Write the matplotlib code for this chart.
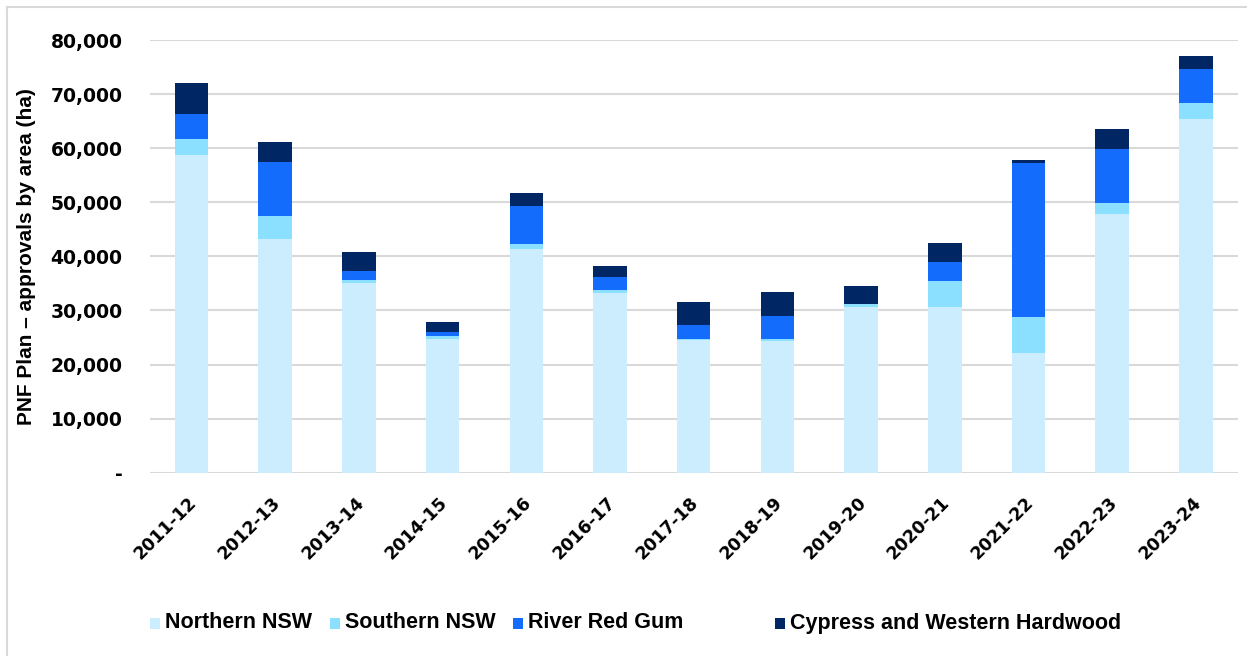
import numpy as np
import matplotlib.pyplot as plt
import matplotlib.transforms as mtransforms
from matplotlib.lines import Line2D
from matplotlib.patches import Rectangle
from matplotlib.ticker import FuncFormatter

plt.rcParams['font.family'] = ['Liberation Sans', 'DejaVu Sans']
plt.rcParams['font.weight'] = 'bold'
NUM_FONT = 'DejaVu Sans'

years = ['2011-12', '2012-13', '2013-14', '2014-15', '2015-16', '2016-17', '2017-18',
         '2018-19', '2019-20', '2020-21', '2021-22', '2022-23', '2023-24']

# approved area (ha) per region
northern = [58700, 43200, 35100, 24800, 41350, 33200, 24500, 24350, 30700, 30600, 22100, 47900, 65400]
southern = [3000, 4200, 500, 500, 850, 600, 300, 300, 500, 4900, 6750, 2000, 2900]
river_red_gum = [4700, 10000, 1700, 800, 7200, 2400, 2550, 4250, 50, 3400, 28350, 10000, 6250]
cypress_western = [5700, 3700, 3550, 1750, 2250, 1950, 4250, 4500, 3200, 3600, 600, 3600, 2450]

series = [
    ('Northern NSW', northern, '#CBEDFD'),
    ('Southern NSW', southern, '#8CE0FF'),
    ('River Red Gum', river_red_gum, '#146CFD'),
    ('Cypress and Western Hardwood', cypress_western, '#002664'),
]

W, H = 1247, 656
fig = plt.figure(figsize=(W / 100, H / 100), dpi=100)
ax = fig.add_axes([0.12, 0.2794, 0.8726, 0.6596])

x = np.arange(len(years))
bottom = np.zeros(len(years))
for name, vals, col in series:
    vals = np.array(vals, dtype=float)
    ax.bar(x, vals, width=0.4, bottom=bottom, color=col, edgecolor='none', zorder=3)
    bottom += vals

ax.set_xlim(-0.5, len(years) - 0.5)
ax.set_ylim(0, 80000)
ax.set_yticks(np.arange(0, 80001, 10000))
ax.yaxis.set_major_formatter(FuncFormatter(lambda v, p: '-' if v == 0 else f'{v:,.0f}'))
ax.grid(axis='y', color='#D9D9D9', linewidth=1.5, zorder=0)
for s in ['top', 'right', 'left', 'bottom']:
    ax.spines[s].set_visible(False)
ax.tick_params(axis='both', length=0)
ax.tick_params(axis='y', pad=19.5)

ax.set_xticks(x)
ax.set_xticklabels(years, rotation=45, ha='right', va='top', rotation_mode='anchor')
ax.tick_params(axis='x', pad=15)
shift = mtransforms.ScaledTranslation(-4 / 100, 0, fig.dpi_scale_trans)
for lab in ax.get_xticklabels():
    lab.set_transform(lab.get_transform() + shift)
    lab.set_fontfamily(NUM_FONT)
    lab.set_fontsize(12.5)
    lab.set_fontweight('bold')
for lab in ax.get_yticklabels():
    lab.set_fontfamily(NUM_FONT)
    lab.set_fontsize(13.5)
    lab.set_fontweight('bold')

ax.set_ylabel('PNF Plan – approvals by area (ha)', fontsize=15, fontweight='bold')
ax.yaxis.set_label_coords(-0.104, 0.5)

# legend entries placed along the bottom
legend_x = [150, 330, 513, 775]
legend_y = 623
for (name, vals, col), lx in zip(series, legend_x):
    fig.add_artist(Rectangle((lx / W, (H - legend_y - 5.5) / H), 10 / W, 11 / H,
                             transform=fig.transFigure, facecolor=col, edgecolor='none'))
    fig.text((lx + 15) / W, (H - legend_y) / H, name, fontsize=15.5, fontweight='bold',
             ha='left', va='center')

# chart frame on the left and top edges
fig.add_artist(Line2D([7 / W, 7 / W], [0, 1 - 7 / H], color='#D9D9D9', linewidth=1.5))
fig.add_artist(Line2D([7 / W, 1], [1 - 7 / H, 1 - 7 / H], color='#D9D9D9', linewidth=1.5))

fig.savefig('out.png', dpi=100)
